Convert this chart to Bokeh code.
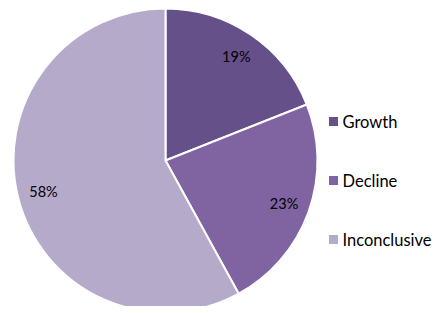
import math
from bokeh.plotting import figure
from bokeh.models import Range1d, ColumnDataSource
from bokeh.core.properties import value
from bokeh.embed import file_html
from bokeh.resources import INLINE

categories = ["Growth", "Decline", "Inconclusive"]
shares = [19, 23, 58]
labels = ["19%", "23%", "58%"]
colors = ["#66508a", "#8064a2", "#b5aaca"]

W, H = 432, 306
p = figure(width=W, height=H, output_backend="svg", toolbar_location=None,
           x_range=Range1d(0, W), y_range=Range1d(-H, 0),
           min_border=0, outline_line_color=None)
p.axis.visible = False
p.grid.visible = False
p.background_fill_color = "white"

cx, cy, r = 165, -160, 152
total = sum(shares)
starts, ends, lx, ly = [], [], [], []
cum = 0
for s in shares:
    a0 = math.pi / 2 - 2 * math.pi * cum / total
    cum += s
    a1 = math.pi / 2 - 2 * math.pi * cum / total
    starts.append(a0)
    ends.append(a1)
    mid = (a0 + a1) / 2
    lx.append(cx + 126 * math.cos(mid))
    ly.append(cy + 126 * math.sin(mid))

src = ColumnDataSource(dict(start=starts, end=ends, color=colors, lx=lx, ly=ly, label=labels))
p.wedge(x=cx, y=cy, radius=r, start_angle="start", end_angle="end", direction="clock",
        fill_color="color", line_color="white", line_width=2, source=src)
p.text(x="lx", y="ly", text="label", text_align="center", text_baseline="middle",
       text_font=value("Lato"), text_font_size="14.5px", text_color="#000000", source=src)

leg_y = [-(121 + 59 * i) for i in range(len(categories))]
leg = ColumnDataSource(dict(x=[333] * 3, tx=[342] * 3, y=leg_y, color=colors, name=categories))
p.scatter(x="x", y="y", marker="square", size=9, fill_color="color", line_color=None, source=leg)
p.text(x="tx", y="y", text="name", text_align="left", text_baseline="middle",
       text_font=value("Lato"), text_font_size="16.5px", text_color="#000000", source=leg)

open("out.html", "w").write(file_html(p, INLINE))
